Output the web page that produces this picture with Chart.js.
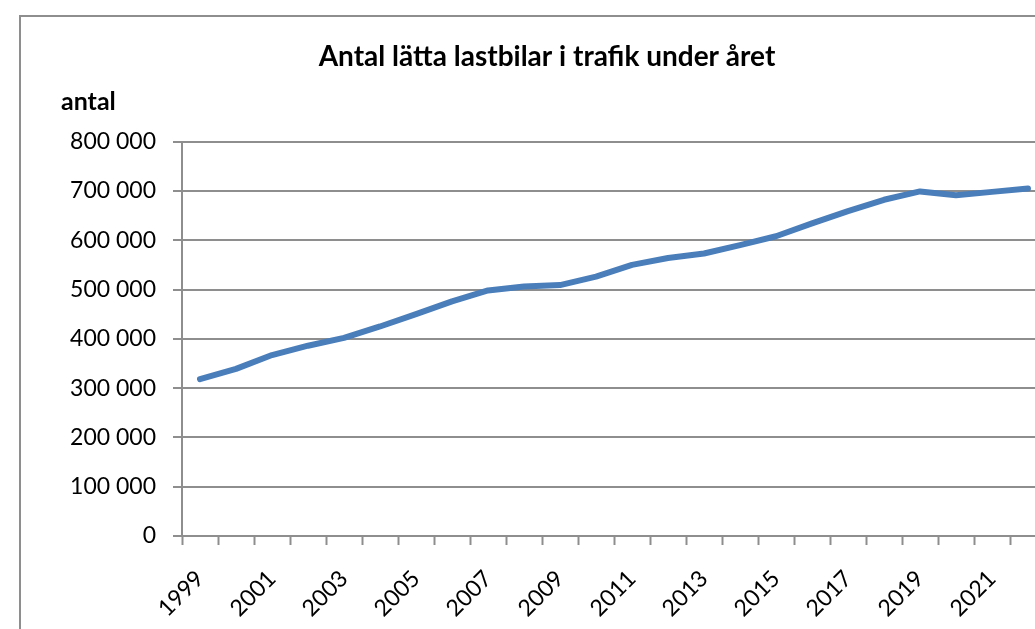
<!DOCTYPE html>
<html>
<head>
<meta charset="utf-8">
<script src="https://cdn.jsdelivr.net/npm/chart.js@4/dist/chart.umd.min.js"></script>
<style>
  html, body { margin: 0; padding: 0; background: #fff; overflow: hidden; }
  #frame { position: absolute; left: 19px; top: 15px; width: 1200px; height: 800px; border: 2px solid #8e8e8e; pointer-events: none; }
  #myChart { position: absolute; left: 0; top: 0; }
</style>
</head>
<body>
<canvas id="myChart" width="1142" height="629"></canvas>
<div id="frame"></div>
<script>
// data
const years = ['1999', '2000', '2001', '2002', '2003', '2004', '2005', '2006', '2007', '2008', '2009', '2010',
  '2011', '2012', '2013', '2014', '2015', '2016', '2017', '2018', '2019', '2020', '2021', '2022'];
const antal = [318000, 339000, 367000, 386000, 402000, 425000, 450000, 476000, 498000, 506000, 509000, 526000,
  550000, 564000, 573000, 590000, 608000, 634000, 659000, 682000, 699000, 691000, 698000, 705000];
const yTicks = [0, 100000, 200000, 300000, 400000, 500000, 600000, 700000, 800000];

const ctx = document.getElementById('myChart');
const FONT = 'Lato, Carlito, "Open Sans", sans-serif';
const gridGray = '#8e8e8e';

// "antal" over the y axis, horizontal like in the original
const yLabel = {
  id: 'yLabel',
  afterDraw(chart) {
    const c = chart.ctx;
    c.save();
    c.font = 'bold 25px ' + FONT;
    c.fillStyle = '#000';
    c.textAlign = 'left';
    c.textBaseline = 'middle';
    c.fillText('antal', 61, 102);
    c.restore();
  }
};

new Chart(ctx, {
  type: 'line',
  data: {
    labels: years,
    datasets: [{
      label: 'antal',
      data: antal,
      borderColor: '#4a7ebb',
      backgroundColor: '#4a7ebb',
      borderWidth: 6,
      borderCapStyle: 'round',
      borderJoinStyle: 'round',
      pointRadius: 0,
      tension: 0,
      fill: false
    }]
  },
  options: {
    responsive: false,
    animation: false,
    // the right part of the chart is cut off in the reference
    layout: { padding: { left: 48, right: 96, top: 0, bottom: 0 } },
    plugins: {
      legend: { display: false },
      tooltip: { enabled: false },
      title: {
        display: true,
        text: 'Antal lätta lastbilar i trafik under året',
        color: '#000',
        font: { family: FONT, size: 28, weight: 'bold' },
        padding: { top: 40, bottom: 68 }
      }
    },
    scales: {
      x: {
        offset: true,
        grid: {
          offset: true,
          drawOnChartArea: false,
          drawTicks: true,
          tickLength: 9,
          tickColor: gridGray,
          tickWidth: 2
        },
        border: { display: true, color: gridGray, width: 2 },
        ticks: {
          autoSkip: false,
          maxRotation: 45,
          minRotation: 45,
          padding: 20,
          color: '#000',
          font: { family: FONT, size: 23 },
          callback: function (v, i) { return i % 2 === 0 ? years[i] : ''; }
        },
        afterFit(scale) { scale.height = 93; }
      },
      y: {
        min: 0,
        max: 800000,
        afterBuildTicks(scale) { scale.ticks = yTicks.map(v => ({ value: v })); },
        grid: {
          color: gridGray,
          lineWidth: 2,
          drawTicks: true,
          tickLength: 9,
          tickColor: gridGray
        },
        border: { display: true, color: gridGray, width: 2 },
        ticks: {
          padding: 17,
          color: '#000',
          font: { family: FONT, size: 23 },
          callback: v => v.toString().replace(/\B(?=(\d{3})+(?!\d))/g, ' ')
        },
        afterFit(scale) { scale.width = 134; }
      }
    }
  },
  plugins: [yLabel]
});
</script>
</body>
</html>
